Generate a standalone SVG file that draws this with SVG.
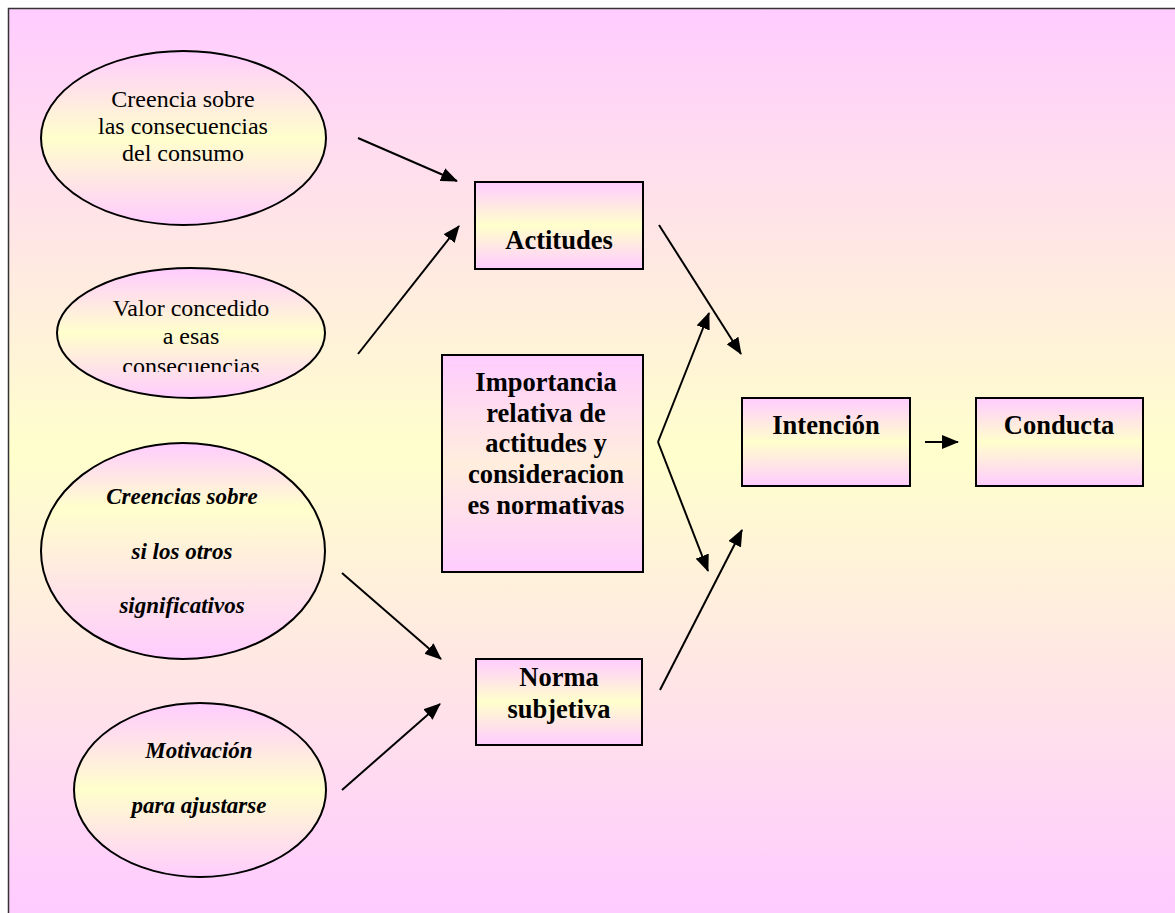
<svg xmlns="http://www.w3.org/2000/svg" width="1175" height="913" viewBox="0 0 1175 913">
  <defs>
    <!-- page background: pink at the edges, pale yellow across the middle -->
    <linearGradient id="bg" gradientUnits="userSpaceOnUse" x1="0" y1="8" x2="0" y2="900">
      <stop offset="0" stop-color="#FFCCFF"/>
      <stop offset="0.5" stop-color="#FFFFCC"/>
      <stop offset="1" stop-color="#FFCCFF"/>
    </linearGradient>
    <!-- shape fill: pink top and bottom, yellow band in the middle -->
    <linearGradient id="fill" x1="0" y1="0" x2="0" y2="1">
      <stop offset="0" stop-color="#FFCCFF"/>
      <stop offset="0.5" stop-color="#FFFFCC"/>
      <stop offset="1" stop-color="#FFCCFF"/>
    </linearGradient>
    <linearGradient id="fillHigh" x1="0" y1="0" x2="0" y2="1">
      <stop offset="0" stop-color="#FFCCFF"/>
      <stop offset="0.3" stop-color="#FFFFCC"/>
      <stop offset="1" stop-color="#FFCCFF"/>
    </linearGradient>
    <linearGradient id="fillPale" x1="0" y1="0" x2="0" y2="1">
      <stop offset="0" stop-color="#FFCCFF"/>
      <stop offset="0.5" stop-color="#FFEEDD"/>
      <stop offset="1" stop-color="#FFCCFF"/>
    </linearGradient>
    <marker id="arrow" viewBox="0 0 17 14" refX="16" refY="7" markerWidth="17" markerHeight="14" markerUnits="userSpaceOnUse" orient="auto">
      <path d="M0,0 L17,7 L0,14 Z" fill="#000"/>
    </marker>
    <clipPath id="clipValor">
      <rect x="40" y="260" width="300" height="112"/>
    </clipPath>
  </defs>
  <style>
    .shape { stroke: #000; stroke-width: 2; }
    .reg { font-family: "Liberation Serif", "Times New Roman", serif; font-size: 24px; fill: #000; text-anchor: middle; }
    .bold { font-family: "Liberation Serif", "Times New Roman", serif; font-size: 26.5px; font-weight: bold; fill: #000; text-anchor: middle; }
    .bi { font-family: "Liberation Serif", "Times New Roman", serif; font-size: 23px; font-weight: bold; font-style: italic; fill: #000; text-anchor: middle; }
    .conn line { stroke: #000; stroke-width: 2; fill: none; }
  </style>

  <!-- frame -->
  <rect x="8.5" y="8.5" width="1180" height="920" fill="url(#bg)" stroke="#333" stroke-width="1.5"/>

  <g id="creencia-consecuencias">
    <ellipse class="shape" cx="183.5" cy="138" rx="142.5" ry="87" fill="url(#fill)"/>
    <text class="reg" x="183" y="107">Creencia sobre</text>
    <text class="reg" x="183" y="134">las consecuencias</text>
    <text class="reg" x="183" y="161">del consumo</text>
  </g>

  <g id="valor-concedido">
    <ellipse class="shape" cx="191" cy="333" rx="134" ry="65" fill="url(#fill)"/>
    <g clip-path="url(#clipValor)">
      <text class="reg" x="191" y="316">Valor concedido</text>
      <text class="reg" x="191" y="344">a esas</text>
      <text class="reg" x="191" y="374">consecuencias</text>
    </g>
  </g>

  <g id="creencias-otros">
    <ellipse class="shape" cx="183" cy="551" rx="142" ry="108" fill="url(#fillHigh)"/>
    <text class="bi" x="182" y="504">Creencias sobre</text>
    <text class="bi" x="182" y="559">si los otros</text>
    <text class="bi" x="182" y="613">significativos</text>
  </g>

  <g id="motivacion">
    <ellipse class="shape" cx="200" cy="790" rx="126" ry="87" fill="url(#fill)"/>
    <text class="bi" x="199" y="758">Motivación</text>
    <text class="bi" x="199" y="813">para ajustarse</text>
  </g>

  <g id="actitudes">
    <rect class="shape" x="475" y="182" width="168" height="87" fill="url(#fill)"/>
    <text class="bold" x="559" y="249">Actitudes</text>
  </g>

  <g id="importancia">
    <rect class="shape" x="442" y="355" width="201" height="217" fill="url(#fillPale)"/>
    <text class="bold" x="546" y="391">Importancia</text>
    <text class="bold" x="546" y="422">relativa de</text>
    <text class="bold" x="546" y="452">actitudes y</text>
    <text class="bold" x="546" y="483">consideracion</text>
    <text class="bold" x="546" y="514">es normativas</text>
  </g>

  <g id="norma-subjetiva">
    <rect class="shape" x="476" y="659" width="166" height="86" fill="url(#fill)"/>
    <text class="bold" x="559" y="686">Norma</text>
    <text class="bold" x="559" y="718">subjetiva</text>
  </g>

  <g id="intencion">
    <rect class="shape" x="742" y="398" width="168" height="88" fill="url(#fill)"/>
    <text class="bold" x="826" y="434">Intención</text>
  </g>

  <g id="conducta">
    <rect class="shape" x="976" y="398" width="167" height="88" fill="url(#fill)"/>
    <text class="bold" x="1059" y="434">Conducta</text>
  </g>

  <g id="connectors" class="conn">
    <line x1="358" y1="138" x2="457" y2="181" marker-end="url(#arrow)"/>
    <line x1="358" y1="354" x2="459" y2="226" marker-end="url(#arrow)"/>
    <line x1="659" y1="225" x2="741" y2="354" marker-end="url(#arrow)"/>
    <line x1="658" y1="442" x2="709" y2="313" marker-end="url(#arrow)"/>
    <line x1="658" y1="442" x2="708" y2="571" marker-end="url(#arrow)"/>
    <line x1="660" y1="690" x2="742" y2="530" marker-end="url(#arrow)"/>
    <line x1="342" y1="573" x2="441" y2="659" marker-end="url(#arrow)"/>
    <line x1="342" y1="790" x2="440" y2="704" marker-end="url(#arrow)"/>
    <line x1="925" y1="442" x2="958" y2="442" marker-end="url(#arrow)"/>
  </g>
</svg>
